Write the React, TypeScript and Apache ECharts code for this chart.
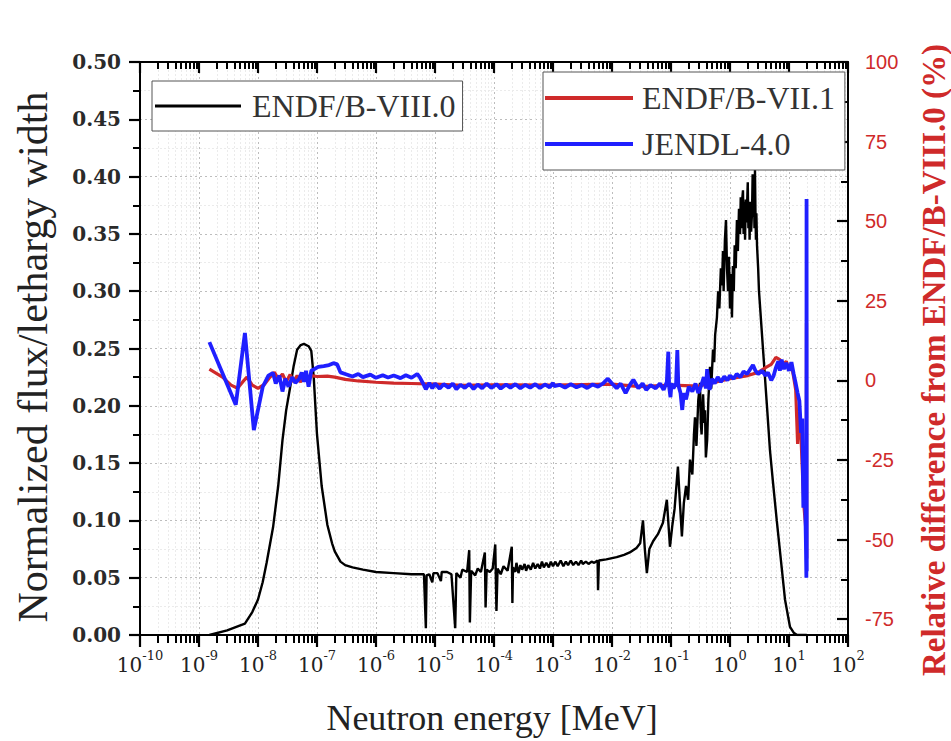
import React, { useEffect, useRef } from 'react';
import * as echarts from 'echarts';

// Neutron energy [MeV] vs normalized flux per lethargy width (ENDF/B-VIII.0)
const endfB80: [number, number][] = [
  [1.5e-9, 0.0], [3e-9, 0.004], [6e-9, 0.010], [8e-9, 0.020], [1.0e-8, 0.031], [1.2e-8, 0.046],
  [1.4e-8, 0.063], [1.8e-8, 0.094], [2.2e-8, 0.130], [2.6e-8, 0.170], [3.0e-8, 0.196], [3.5e-8, 0.216],
  [4.0e-8, 0.234], [4.6e-8, 0.249], [5.3e-8, 0.253], [6.0e-8, 0.254], [7.2e-8, 0.252], [8.0e-8, 0.248],
  [8.8e-8, 0.225], [1.0e-7, 0.175], [1.2e-7, 0.130], [1.5e-7, 0.096], [1.8e-7, 0.080], [2.0e-7, 0.073],
  [2.5e-7, 0.064], [3.0e-7, 0.061], [4.0e-7, 0.059], [6.0e-7, 0.057], [1.0e-6, 0.055], [2.0e-6, 0.054],
  [4.0e-6, 0.053], [6.5e-6, 0.053], [7.0e-6, 0.006], [7.2e-6, 0.052], [8.0e-6, 0.053], [9.0e-6, 0.046],
  [9.4e-6, 0.054], [1.1e-5, 0.054], [1.26e-5, 0.047], [1.3e-5, 0.055], [1.6e-5, 0.055], [1.9e-5, 0.053],
  [2.2e-5, 0.006], [2.3e-5, 0.054], [2.7e-5, 0.050], [2.9e-5, 0.057], [3.5e-5, 0.055], [3.8e-5, 0.074],
  [3.9e-5, 0.011], [4.1e-5, 0.056], [4.8e-5, 0.052], [5.3e-5, 0.058], [6.0e-5, 0.055], [7.0e-5, 0.072],
  [7.2e-5, 0.024], [7.5e-5, 0.057], [8.5e-5, 0.055], [9.5e-5, 0.058], [1.05e-4, 0.079], [1.1e-4, 0.021],
  [1.15e-4, 0.058], [1.3e-4, 0.053], [1.45e-4, 0.060], [1.7e-4, 0.056], [2.0e-4, 0.077], [2.05e-4, 0.028],
  [2.1e-4, 0.059], [2.3e-4, 0.055], [2.4e-4, 0.063], [2.6e-4, 0.054], [2.8e-4, 0.061], [3.0e-4, 0.057],
  [3.3e-4, 0.062], [3.5e-4, 0.056], [3.8e-4, 0.061], [4.2e-4, 0.057], [4.6e-4, 0.063], [5.0e-4, 0.058],
  [5.5e-4, 0.062], [6.0e-4, 0.058], [6.5e-4, 0.064], [7.0e-4, 0.059], [7.7e-4, 0.063], [8.5e-4, 0.059],
  [9.2e-4, 0.064], [1.0e-3, 0.060], [1.1e-3, 0.064], [1.2e-3, 0.060], [1.35e-3, 0.065], [1.5e-3, 0.060],
  [1.65e-3, 0.064], [1.8e-3, 0.061], [2.0e-3, 0.065], [2.2e-3, 0.061], [2.45e-3, 0.064], [2.7e-3, 0.061],
  [3.0e-3, 0.065], [3.2e-3, 0.062], [3.6e-3, 0.064], [4.0e-3, 0.062], [4.5e-3, 0.064], [5.0e-3, 0.063],
  [5.7e-3, 0.065], [5.8e-3, 0.039], [6.0e-3, 0.065], [8.0e-3, 0.066], [1.2e-2, 0.068], [1.6e-2, 0.070],
  [2.0e-2, 0.072], [2.6e-2, 0.076], [3.0e-2, 0.080], [3.35e-2, 0.100], [3.6e-2, 0.075], [3.9e-2, 0.054],
  [4.3e-2, 0.075], [5.0e-2, 0.082], [6.0e-2, 0.088], [7.3e-2, 0.098], [8.5e-2, 0.118], [9.6e-2, 0.077],
  [1.05e-1, 0.095], [1.15e-1, 0.110], [1.31e-1, 0.147], [1.40e-1, 0.120], [1.53e-1, 0.086], [1.65e-1, 0.115],
  [1.8e-1, 0.130], [1.95e-1, 0.118], [2.1e-1, 0.153], [2.3e-1, 0.140], [2.45e-1, 0.175], [2.55e-1, 0.190],
  [2.7e-1, 0.165], [2.9e-1, 0.205], [3.1e-1, 0.220], [3.2e-1, 0.185], [3.3e-1, 0.175], [3.5e-1, 0.210],
  [3.65e-1, 0.185], [3.77e-1, 0.196], [3.9e-1, 0.155], [4.1e-1, 0.170], [4.3e-1, 0.205], [4.58e-1, 0.234],
  [4.8e-1, 0.215], [5.15e-1, 0.249], [5.4e-1, 0.238], [5.6e-1, 0.262], [6.0e-1, 0.277], [6.3e-1, 0.300],
  [6.6e-1, 0.285], [7.0e-1, 0.320], [7.3e-1, 0.305], [7.6e-1, 0.335], [7.8e-1, 0.300], [8.2e-1, 0.345],
  [8.55e-1, 0.362], [8.9e-1, 0.320], [9.25e-1, 0.300], [9.6e-1, 0.330], [1.0, 0.285], [1.04, 0.315],
  [1.08, 0.277], [1.12, 0.322], [1.16, 0.300], [1.2, 0.340], [1.25, 0.320], [1.31, 0.362], [1.36, 0.335],
  [1.42, 0.372], [1.48, 0.350], [1.52, 0.382], [1.56, 0.355], [1.61, 0.380], [1.66, 0.388], [1.7, 0.350],
  [1.75, 0.378], [1.8, 0.345], [1.85, 0.380], [1.9, 0.360], [1.94, 0.372], [2.0, 0.395], [2.05, 0.355],
  [2.1, 0.375], [2.15, 0.345], [2.2, 0.378], [2.28, 0.352], [2.36, 0.368], [2.42, 0.402], [2.48, 0.365],
  [2.55, 0.385], [2.6, 0.355], [2.65, 0.406], [2.7, 0.370], [2.75, 0.345], [2.8, 0.368], [2.87, 0.340],
  [3.0, 0.320], [3.1, 0.300], [3.63, 0.249], [4.24, 0.199], [4.76, 0.161], [5.36, 0.133], [6.2, 0.100],
  [7.0, 0.074], [8.55, 0.031], [10.4, 0.007], [12.0, 0.002], [13.7, 0.0], [20.0, 0.0],
];

// Relative difference from ENDF/B-VIII.0 [%]
const endfB71: [number, number][] = [
  [1.5e-9, 3.5], [2.5e-9, 1.0], [3.5e-9, -1.5], [4.5e-9, -2.5], [5.5e-9, -0.5], [6.5e-9, 1.0],
  [8e-9, -1.5], [1e-8, -2.5], [1.3e-8, -1.2], [1.6e-8, 1.0], [1.9e-8, 2.5], [2.2e-8, 0.5],
  [2.6e-8, 2.0], [3.0e-8, -0.5], [3.5e-8, 1.8], [4.0e-8, -0.5], [4.6e-8, 1.5], [5.2e-8, -0.5],
  [6.0e-8, 1.0], [7e-8, 0.0], [8e-8, 1.5], [1e-7, 1.2], [1.5e-7, 1.3], [2e-7, 1.0], [3e-7, 0.3],
  [5e-7, -0.2], [1e-6, -0.6], [2e-6, -0.9], [4e-6, -1.0], [1e-5, -1.2], [3e-5, -1.6], [1e-4, -1.4],
  [1e-3, -1.5], [1e-2, -1.2], [3e-2, -2.0], [0.1, -1.5], [0.3, -1.8], [1, 0.5], [2, 1.5], [3, 2.5],
  [4, 4.0], [5, 5.0], [6, 7.2], [7, 6.5], [8, 5.0], [9, 6.0], [10, 3.5], [11, 5.0], [12, 1.0],
  [13, -3.0], [14, -20.0], [15, -10.0], [16, -18.0], [17, -30.0], [18, -40.0], [19, -45.0],
  [19.6, -50.0], [19.8, 18.0], [19.95, -56.0],
];

const jendl40: [number, number][] = [
  [1.5e-9, 12.0], [4.2e-9, -7.7], [6.0e-9, 14.9], [8.5e-9, -15.6], [1.2e-8, -2.1], [1.5e-8, 1.5],
  [1.8e-8, 2.3], [2.0e-8, -1.0], [2.3e-8, 1.5], [2.6e-8, -3.5], [2.9e-8, 0.5], [3.3e-8, -2.0],
  [3.8e-8, 1.0], [4.3e-8, -0.8], [5.0e-8, 0.5], [5.5e-8, 2.5], [6.0e-8, -0.5], [6.5e-8, 3.0],
  [7.2e-8, -2.0], [8.0e-8, 3.0], [9.0e-8, 3.5], [1.05e-7, 4.2], [1.3e-7, 4.5], [1.6e-7, 4.8],
  [1.9e-7, 5.4], [2.2e-7, 5.0], [2.5e-7, 2.5], [3.0e-7, 2.0], [4.0e-7, 1.2], [5.0e-7, 2.0],
  [6.0e-7, 1.0], [8.0e-7, 1.8], [1.0e-6, 0.8], [1.3e-6, 1.6], [1.6e-6, 0.9], [2.0e-6, 1.5],
  [2.6e-6, 0.7], [3.2e-6, 1.6], [4.0e-6, 0.8], [5.0e-6, 2.0], [5.5e-6, 1.0], [6.5e-6, -1.5],
  [7.0e-6, -2.8], [8.0e-6, -0.8], [9.0e-6, -2.5], [1.0e-5, -1.0], [1.2e-5, -2.6], [1.4e-5, -1.2],
  [1.7e-5, -2.3], [2.0e-5, -1.0], [2.3e-5, -2.8], [2.7e-5, -1.4], [3.2e-5, -2.4], [3.8e-5, -1.1],
  [4.5e-5, -2.7], [5.3e-5, -1.3], [6.3e-5, -2.5], [7.5e-5, -1.0], [9.0e-5, -2.4], [1.1e-4, -1.2],
  [1.3e-4, -2.6], [1.6e-4, -1.3], [1.9e-4, -2.3], [2.3e-4, -1.2], [2.8e-4, -2.5], [3.4e-4, -1.4],
  [4.1e-4, -2.3], [5.0e-4, -1.2], [6.0e-4, -2.4], [7.3e-4, -1.3], [8.8e-4, -2.2], [1.0e-3, -0.8],
  [1.05e-3, -1.8], [1.3e-3, -1.4], [1.6e-3, -2.3], [2.0e-3, -1.2], [2.5e-3, -2.2], [3.1e-3, -1.5],
  [3.8e-3, -2.4], [4.7e-3, -1.3], [5.8e-3, -2.0], [7.0e-3, -1.0], [8.5e-3, 0.5], [1.0e-2, -1.0],
  [1.2e-2, -2.5], [1.4e-2, -1.0], [1.7e-2, -4.0], [2.0e-2, -1.5], [2.3e-2, 0.2], [2.8e-2, -2.5],
  [3.3e-2, -1.0], [3.8e-2, -3.0], [4.5e-2, -1.5], [5.5e-2, -2.5], [6.5e-2, -1.0], [7.5e-2, -3.0],
  [8.5e-2, -0.5], [9.0e-2, 9.0], [9.3e-2, -2.0], [9.8e-2, -5.3], [1.02e-1, -1.0], [1.10e-1, -2.5],
  [1.22e-1, -1.0], [1.28e-1, 9.5], [1.33e-1, -1.5], [1.45e-1, -4.0], [1.55e-1, -9.3], [1.65e-1, -4.0],
  [1.80e-1, -6.0], [2.0e-1, -2.0], [2.3e-1, -3.5], [2.6e-1, -1.0], [2.9e-1, -4.0], [3.2e-1, -2.0],
  [3.6e-1, 1.0], [3.9e-1, -2.5], [4.1e-1, 3.5], [4.5e-1, -3.0], [5.0e-1, 0.5], [5.5e-1, -1.0],
  [6.2e-1, 1.0], [7.0e-1, -0.5], [8.0e-1, 1.2], [9.0e-1, 0.0], [1.0, 1.5], [1.15, 0.5], [1.3, 2.0],
  [1.5, 1.0], [1.7, 2.8], [1.95, 2.0], [2.2, 3.5], [2.45, 4.8], [2.7, 3.0], [3.0, 2.0], [3.5, 3.0],
  [4.0, 1.5], [4.4, 2.5], [5.0, 0.0], [5.5, 1.5], [6.0, 4.0], [6.6, 6.0], [7.0, 3.0], [7.5, 6.5],
  [8.2, 3.5], [9.0, 5.5], [10.0, 3.0], [11.0, 5.7], [12.0, 2.0], [13.0, -1.0], [14.0, -4.0],
  [15.0, -6.5], [16.0, -16.5], [16.8, -12.0], [17.5, -40.0], [18.0, -25.0], [18.7, -35.0],
  [19.3, -50.0], [19.7, -62.0], [19.85, 57.0], [20.0, -60.0],
];

const seriesNames = ['ENDF/B-VIII.0', 'ENDF/B-VII.1', 'JENDL-4.0'];
const rightTickValues = [-75, -50, -25, 0, 25, 50, 75, 100];
const rightMinorValues = [-62.5, -37.5, -12.5, 12.5, 37.5, 62.5, 87.5];
const decadeMin = -10;
const decadeMax = 2;

const RED = '#cf2a2a';
const BLUE = '#1f1fff';
const AXIS = '#000000';

export default function App() {
  const ref = useRef<HTMLDivElement>(null);
  useEffect(() => {
    if (!ref.current) return;
    const chart = echarts.init(ref.current, null, { renderer: 'svg' });

    const minorX: number[] = [];
    for (let n = decadeMin; n < decadeMax; n++) {
      for (let k = 2; k <= 9; k++) minorX.push(n + Math.log10(k));
    }
    const toLog = (arr: [number, number][]) => arr.map(([e, v]) => [Math.log10(e), v]);

    const baseX = {
      type: 'value' as const,
      min: decadeMin,
      max: decadeMax,
      gridIndex: 0,
    };

    chart.setOption({
      animation: false,
      backgroundColor: '#ffffff',
      grid: { left: 140, right: 103, top: 62, bottom: 106, containLabel: false },
      legend: [
        {
          data: [seriesNames[0]],
          left: 152,
          top: 81,
          orient: 'vertical',
          padding: [7, 7, 7, 3],
          itemWidth: 86,
          itemHeight: 3,
          itemGap: 10,
          icon: 'rect',
          selectedMode: false,
          borderColor: '#555',
          borderWidth: 1,
          backgroundColor: '#fff',
          textStyle: { fontFamily: 'Liberation Serif', fontSize: 32, color: '#333', lineHeight: 36, padding: [0, 0, 0, 6] },
        },
        {
          data: [seriesNames[1], seriesNames[2]],
          left: 543,
          top: 72,
          orient: 'vertical',
          padding: [8, 10, 8, 2],
          itemWidth: 88,
          itemHeight: 4,
          itemGap: 10,
          icon: 'rect',
          selectedMode: false,
          borderColor: '#555',
          borderWidth: 1,
          backgroundColor: '#fff',
          textStyle: { fontFamily: 'Liberation Serif', fontSize: 32, color: '#333', lineHeight: 36, padding: [0, 0, 0, 4] },
        },
      ],
      xAxis: [
        {
          ...baseX,
          position: 'bottom',
          interval: 1,
          axisLine: { show: true, onZero: false, lineStyle: { color: AXIS, width: 2 } },
          axisTick: { show: true, inside: false, length: 12, lineStyle: { color: AXIS, width: 2.2 } },
          axisLabel: {
            margin: 14,
            formatter: (v: number) => `{b|10}{s|${Math.round(v)}}`,
            rich: {
              b: { fontFamily: 'DejaVu Serif', fontSize: 20, color: '#222', lineHeight: 26, verticalAlign: 'bottom' },
              s: { fontFamily: 'DejaVu Serif', fontSize: 13, color: '#222', lineHeight: 13, verticalAlign: 'top' },
            },
          },
          splitLine: { show: true, lineStyle: { color: '#bdbdbd', width: 1, type: [2, 3] } },
        },
        {
          ...baseX,
          position: 'bottom',
          axisLine: { show: false, onZero: false },
          axisTick: { show: true, inside: false, length: 8, customValues: minorX, lineStyle: { color: AXIS, width: 2 } },
          axisLabel: { show: false },
          splitLine: { show: true, lineStyle: { color: '#ebebeb', width: 1, type: [2, 2] } },
        },
        {
          ...baseX,
          position: 'top',
          interval: 1,
          axisLine: { show: true, onZero: false, lineStyle: { color: AXIS, width: 2 } },
          axisTick: { show: true, inside: true, length: 11, lineStyle: { color: AXIS, width: 2.2 } },
          axisLabel: { show: false },
          splitLine: { show: false },
        },
        {
          ...baseX,
          position: 'top',
          axisLine: { show: false, onZero: false },
          axisTick: { show: true, inside: true, length: 7, customValues: minorX, lineStyle: { color: AXIS, width: 2 } },
          axisLabel: { show: false },
          splitLine: { show: false },
        },
      ],
      yAxis: [
        {
          type: 'value',
          position: 'left',
          min: 0,
          max: 0.5,
          interval: 0.05,
          axisLine: { show: true, onZero: false, lineStyle: { color: AXIS, width: 2 } },
          axisTick: { show: true, inside: false, length: 11, lineStyle: { color: AXIS, width: 2.2 } },
          minorTick: { show: true, splitNumber: 2, length: 7, lineStyle: { color: AXIS, width: 2 } },
          minorSplitLine: { show: true, lineStyle: { color: '#ebebeb', width: 1, type: [2, 2] } },
          axisLabel: {
            margin: 19,
            fontFamily: 'DejaVu Serif',
            fontWeight: 'bold',
            fontSize: 20,
            color: '#2a2a2a',
            formatter: (v: number) => v.toFixed(2),
          },
          splitLine: { show: true, lineStyle: { color: '#bdbdbd', width: 1, type: [2, 3] } },
        },
        {
          type: 'value',
          position: 'right',
          min: -80,
          max: 100,
          axisLine: { show: true, onZero: false, lineStyle: { color: AXIS, width: 2 } },
          axisTick: { show: true, inside: true, length: 11, customValues: rightTickValues, lineStyle: { color: AXIS, width: 2.2 } },
          axisLabel: {
            margin: 17,
            customValues: rightTickValues,
            fontFamily: 'Liberation Sans',
            fontSize: 20,
            color: RED,
          },
          splitLine: { show: false },
        },
        {
          type: 'value',
          position: 'right',
          min: -80,
          max: 100,
          axisLine: { show: false, onZero: false },
          axisTick: { show: true, inside: true, length: 7, customValues: rightMinorValues, lineStyle: { color: AXIS, width: 2 } },
          axisLabel: { show: false },
          splitLine: { show: false },
        },
      ],
      series: [
        {
          type: 'line',
          name: seriesNames[0],
          xAxisIndex: 0,
          yAxisIndex: 0,
          data: toLog(endfB80),
          symbol: 'none',
          showSymbol: false,
          color: '#000',
          itemStyle: { color: '#000' },
          lineStyle: { color: '#000', width: 2.4 },
          silent: true,
          z: 2,
        },
        {
          type: 'line',
          name: seriesNames[1],
          xAxisIndex: 0,
          yAxisIndex: 1,
          data: toLog(endfB71),
          symbol: 'none',
          showSymbol: false,
          color: RED,
          itemStyle: { color: RED },
          lineStyle: { color: RED, width: 3.2 },
          silent: true,
          z: 3,
        },
        {
          type: 'line',
          name: seriesNames[2],
          xAxisIndex: 0,
          yAxisIndex: 1,
          data: toLog(jendl40),
          symbol: 'none',
          showSymbol: false,
          color: BLUE,
          itemStyle: { color: BLUE },
          lineStyle: { color: BLUE, width: 3.8 },
          silent: true,
          z: 4,
        },
      ],
      graphic: [
        {
          type: 'text',
          x: 33,
          y: 357,
          rotation: Math.PI / 2,
          style: {
            text: 'Normalized flux/lethargy width',
            fontFamily: 'Liberation Serif',
            fontSize: 42,
            fill: '#222',
            textAlign: 'center',
            textVerticalAlign: 'middle',
          },
        },
        {
          type: 'text',
          x: 492,
          y: 718,
          style: {
            text: 'Neutron energy [MeV]',
            fontFamily: 'Liberation Serif',
            fontSize: 36,
            fill: '#222',
            textAlign: 'center',
            textVerticalAlign: 'middle',
          },
        },
        {
          type: 'text',
          x: 934,
          y: 360,
          rotation: Math.PI / 2,
          style: {
            text: 'Relative difference from ENDF/B-VIII.0 (%)',
            fontFamily: 'Liberation Serif',
            fontWeight: 'bold',
            fontSize: 33,
            fill: RED,
            textAlign: 'center',
            textVerticalAlign: 'middle',
          },
        },
      ],
    });
    return () => chart.dispose();
  }, []);

  return <div ref={ref} style={{ position: 'fixed', left: 0, top: 0, width: 951, height: 741, background: '#fff' }} />;
}
